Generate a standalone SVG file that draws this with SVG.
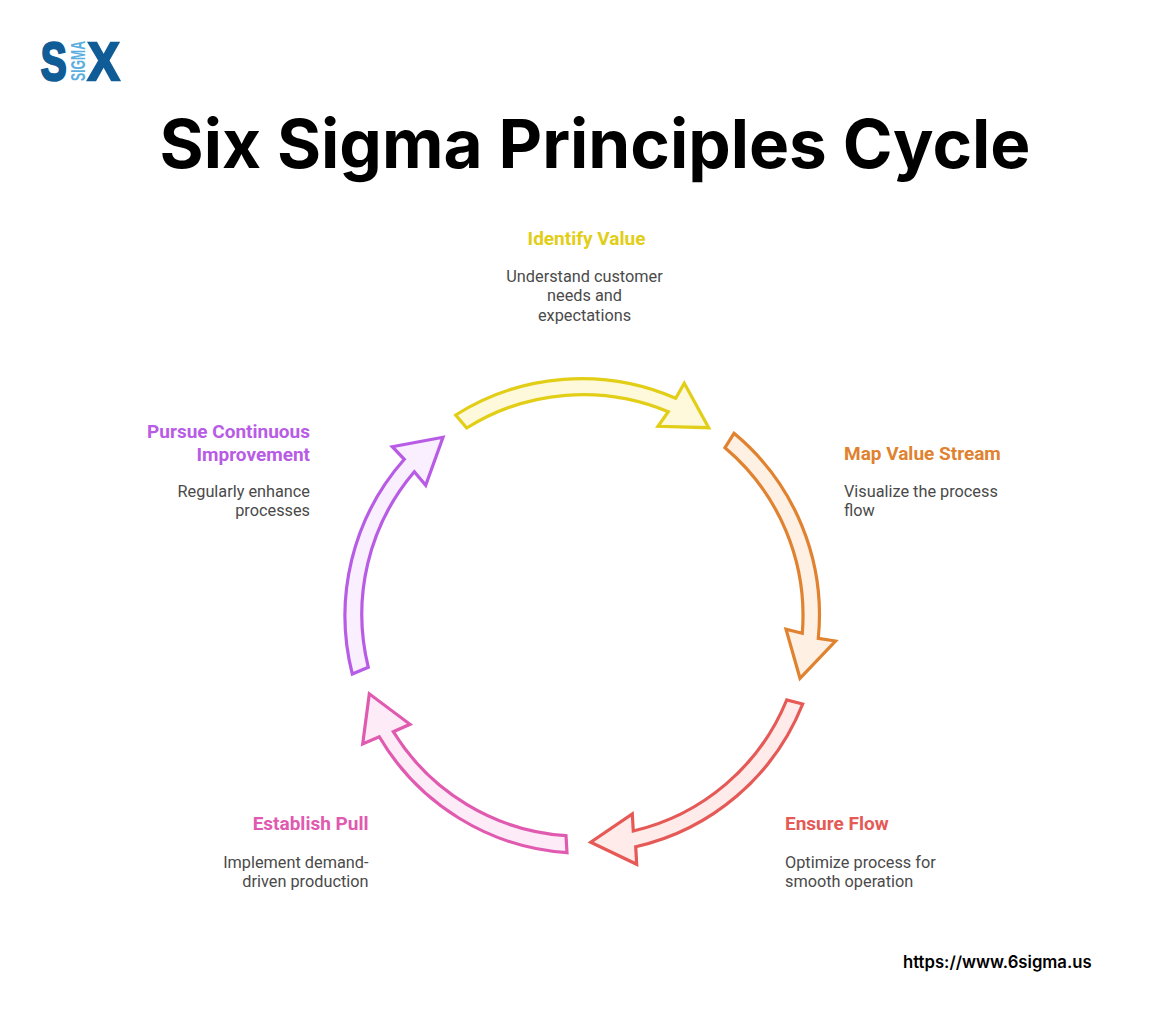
<svg xmlns="http://www.w3.org/2000/svg" width="1173" height="1031" viewBox="0 0 1173 1031">
<style>
.t{font-family:Inter,"Liberation Sans",sans-serif;font-weight:700;font-size:67.4px;fill:#000}
.h{font-family:Roboto,"Liberation Sans",sans-serif;font-weight:700;font-size:19px}
.b{font-family:Roboto,"Liberation Sans",sans-serif;font-size:16.3px;fill:#4a4a4a}
.s{stroke-width:3.2;stroke-linejoin:miter}
.e{text-anchor:end}.m{text-anchor:middle}
.lg{font-family:"Liberation Sans",sans-serif;font-weight:700;fill:#0f5c97;stroke:#0f5c97;stroke-width:2.6}
</style>
<rect width="1173" height="1031" fill="#fff"/>
<g id="logo">
<text class="lg" transform="translate(40.800,80.300) scale(.72,1)" font-size="54">S</text>
<text class="lg" transform="translate(87.800,80.300) scale(.88,1)" font-size="54">X</text>
<text transform="translate(85,81) rotate(-90)" font-family="Liberation Sans,sans-serif" font-weight="700" font-size="20" fill="#5aaee0" textLength="40" lengthAdjust="spacingAndGlyphs">SIGMA</text>
</g>
<text id="title" class="t" x="595" y="168" text-anchor="middle">Six Sigma Principles Cycle</text>
<g id="connectors">
<path class="s" fill="#fef9da" stroke="#e2ce16" d="M455.7 415A236 236 0 0 1 675.7 398.3L684.3 383.3L708.7 427.7L658 426.3L668.3 411.7A220 220 0 0 0 466.7 428Z"/>
<path class="s" fill="#fef0e3" stroke="#e0822f" d="M734 433.3A236 236 0 0 1 818.3 638.3L835.500 641L800 678.3L786 629.3L802.3 633.3A220 220 0 0 0 725 447.7Z"/>
<path class="s" fill="#feebea" stroke="#e55a56" d="M802.7 704A236 236 0 0 1 635.7 846.7L636.7 864.3L590.7 842.3L632.3 814L633.3 831A220 220 0 0 0 786.7 700Z"/>
<path class="s" fill="#fdebf7" stroke="#e05ab0" d="M567 852.7A236 236 0 0 1 379.3 736.7L362.7 744L369.3 693.8L410 724.3L393.3 731.7A220 220 0 0 0 566 835.7Z"/>
<path class="s" fill="#f9effe" stroke="#b85ce6" d="M352.3 674A236 236 0 0 1 404.3 459.3L392.3 446.7L443 437.3L425.7 485.3L414.3 471.7A220 220 0 0 0 368.3 667.3Z"/>
</g>
<g id="identify-value">
<text class="h m" x="586.500" y="244.500" fill="#e2ce16">Identify Value</text>
<text class="b m" x="584.500" y="282">Understand customer</text>
<text class="b m" x="584.500" y="301">needs and</text>
<text class="b m" x="584.500" y="320.500">expectations</text>
</g>
<g id="map-value-stream">
<text class="h" x="844" y="459.500" fill="#e0822f">Map Value Stream</text>
<text class="b" x="844" y="496.500">Visualize the process</text>
<text class="b" x="844" y="516">flow</text>
</g>
<g id="ensure-flow">
<text class="h" x="785" y="830" fill="#e55a56">Ensure Flow</text>
<text class="b" x="785" y="867.500">Optimize process for</text>
<text class="b" x="785" y="887">smooth operation</text>
</g>
<g id="establish-pull">
<text class="h e" x="368.500" y="830" fill="#e05ab0">Establish Pull</text>
<text class="b e" x="368.500" y="867.500">Implement demand-</text>
<text class="b e" x="368.500" y="887">driven production</text>
</g>
<g id="pursue-improvement">
<text class="h e" x="310" y="438" fill="#b85ce6">Pursue Continuous</text>
<text class="h e" x="310" y="461" fill="#b85ce6">Improvement</text>
<text class="b e" x="310" y="496.500">Regularly enhance</text>
<text class="b e" x="310" y="516">processes</text>
</g>
<text id="url" x="903" y="967.500" font-family="Inter,Liberation Sans,sans-serif" font-weight="600" font-size="16.700" fill="#000">https://www.6sigma.us</text>
</svg>
